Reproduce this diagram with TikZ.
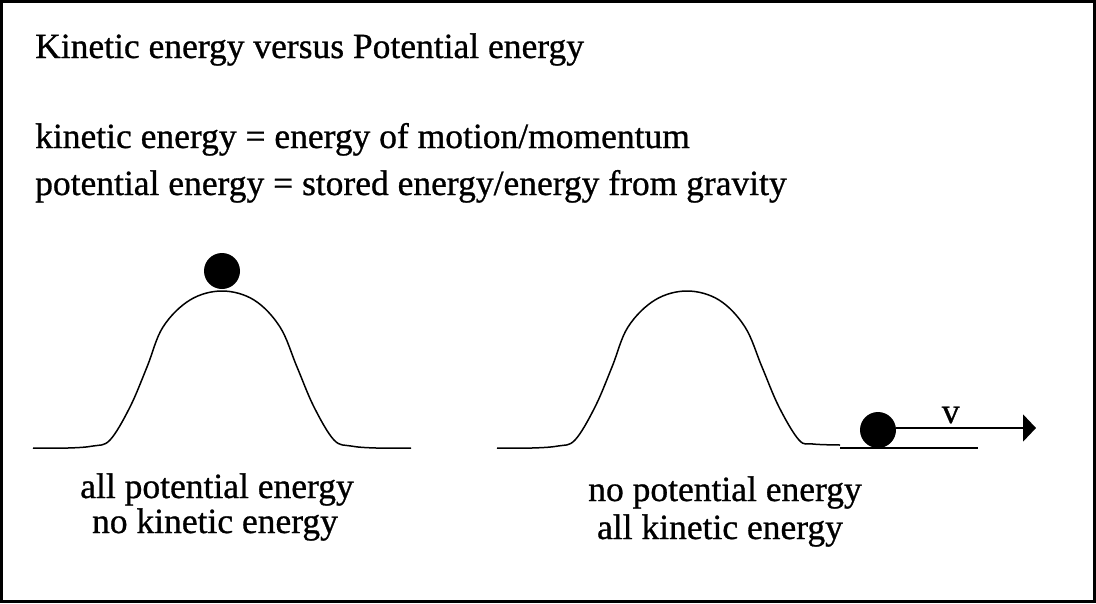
\documentclass[tikz,border=0pt]{standalone}
\usepackage{fontspec}
\setmainfont[FakeBold=0.8]{Liberation Serif}
\usetikzlibrary{arrows.meta}
\begin{document}
\begin{tikzpicture}[x=1pt,y=-1pt,
  txt/.style={inner sep=0pt, font=\fontsize{35.5}{40}\selectfont},
  lbl/.style={txt, anchor=base},
  ball/.style={circle, fill=black, inner sep=0pt, minimum size=36pt},
  hill/.style={line width=1.5pt, line join=round},
  ground/.style={line width=2pt},
  vec/.style={line width=2pt, -{Triangle[length=13pt,width=27pt]}}]
\useasboundingbox (0,0) rectangle (1096,603);
\draw[line width=3pt] (1.5,1.5) rectangle (1094.5,601.5);
% texts
\node[txt, anchor=base west] (title) at (35,58) {Kinetic energy versus Potential energy};
\node[txt, anchor=base west] (ke) at (35,148) {kinetic energy = energy of motion/momentum};
\node[txt, anchor=base west] (pe) at (35,195) {potential energy = stored energy/energy from gravity};
\node[lbl] (l1) at (217,498) {all potential energy};
\node[lbl] (l2) at (215,533) {no kinetic energy};
\node[lbl] (r1) at (725,501) {no potential energy};
\node[lbl] (r2) at (720,539) {all kinetic energy};
% left hill
\begin{scope}[shift={(222,0)}]
\draw[hill] plot[smooth, tension=0.6] coordinates {(-189,448) (-154,448) (-129,446) (-112,440) (-92,407) (-75,367) (-59,327) (-32,300) (0,291) (32,300) (58,327) (75,367) (92,407) (112,440) (129,446) (154,448) (189,448)};
\end{scope}
\node[ball] (b1) at (222,271) {};
% right hill
\begin{scope}[shift={(687,0)}]
\draw[hill] plot[smooth, tension=0.6] coordinates {(-190,448) (-155,448) (-129,446) (-112,440) (-92,407) (-75,367) (-59,327) (-32,300) (0,291) (32,300) (58,327) (75,367) (92,407) (112,440) (126,444) (153,445)};
\end{scope}
\coordinate (g1) at (840,448);
\coordinate (g2) at (978,448);
\draw[ground] (g1) -- (g2);
\node[ball] (b2) at (878,430) {};
\coordinate (tip) at (1036,428);
\draw[vec] (b2.east |- tip) -- (tip) node[pos=0.39, txt, anchor=base, yshift=5pt] (v) {v};
\end{tikzpicture}
\end{document}
